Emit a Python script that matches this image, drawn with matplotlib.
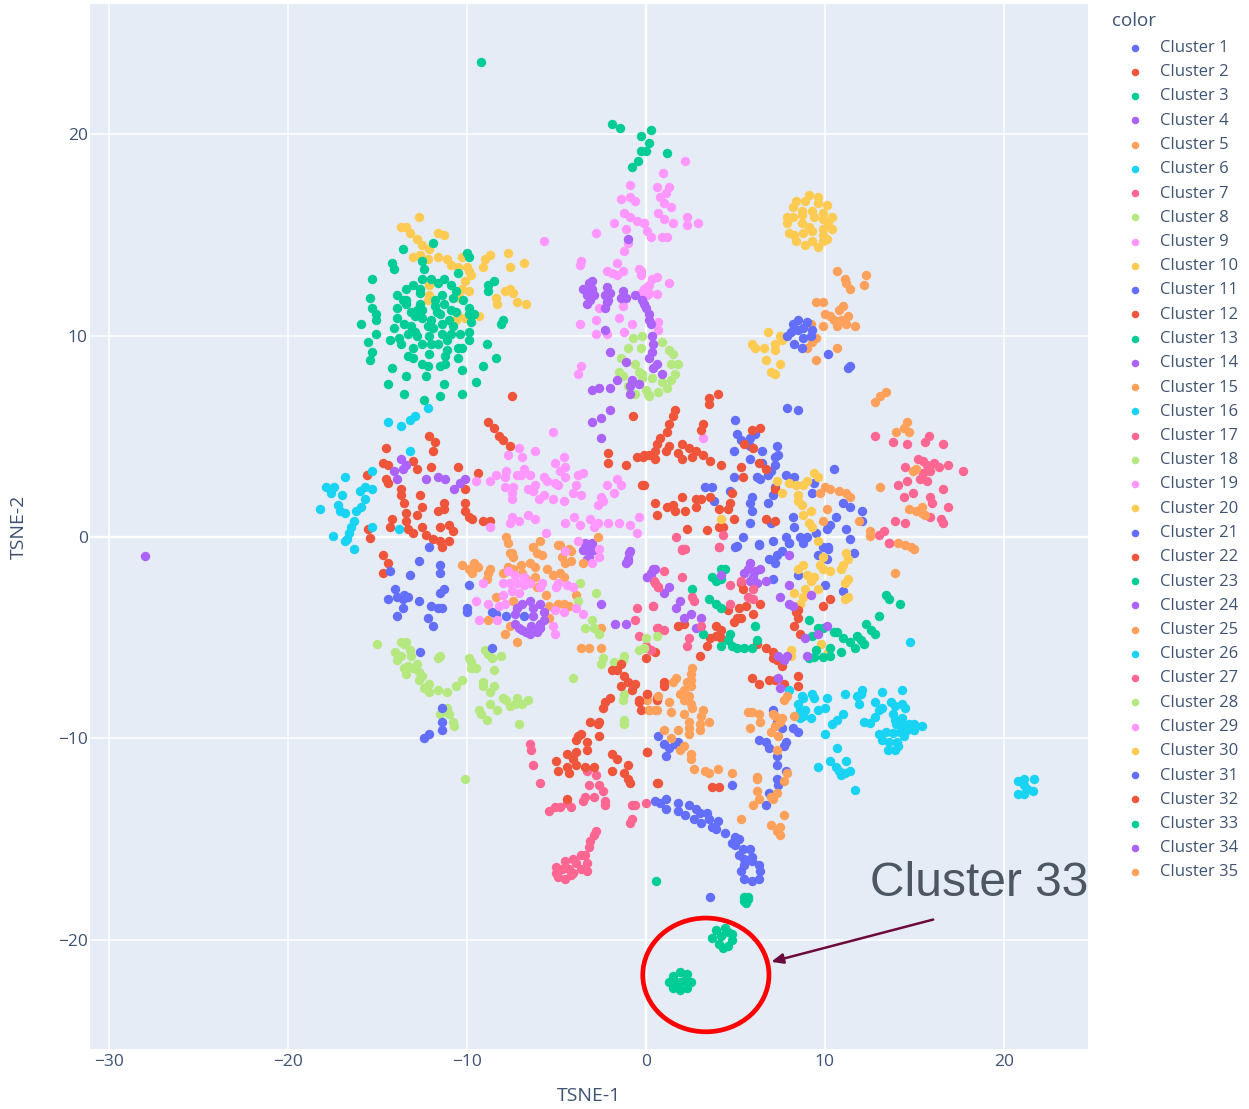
import matplotlib
matplotlib.use("Agg")
import matplotlib.pyplot as plt
from matplotlib.patches import Ellipse

C1 = [(5.1,-.45),(6.3,-.35),(7.6,-.7),(6.9,-1.1),(7.2,-1.3),(7.3,-.9),(8,-.3),(8.8,-.3),(9.6,-.9),(10.2,-.5),(10.1,-1.1),(11.6,-.8),(8.5,-1.9),(7.1,-2.1),(10,-2.4),(11,-2.7),
(7.9,6.4),(8.5,6.3),(5,5.8),(5.1,5.1),(5.3,4.8),(6.1,5.1),(5.8,4.9),(5.8,4.5),(4.9,4.3),(6.5,4.3),(5.8,3.9),(6.5,3.7),(7.3,4.5),(7.4,4.1),(7.2,4),(7.2,3.6),(7,3.3),(6.8,3.1),(6.2,3),(6.4,2.9),(4.9,3),(7.8,3.1),(8.3,3),(10.5,3.4),(7.2,2.5),(7.1,2.1),(6.8,1.7),(3.3,2.5),(3.7,2.5),(4.7,2.3),(3.8,1.8),(5.9,2),(5.8,1.7),(5.9,1.3),(5.8,.7),(9.4,2.7),(11,1.7),(11.4,1.5),(12.1,1.3),(10.6,1),(10.3,.6),(10.1,.4),(11.2,.4),(11.4,-.1),(12.1,.8),(8.2,1),(8.3,.5),(7,.7),(8.6,0),(9,0),(7.8,0),(8,-.3),(9.5,.2),(5.4,0),(7.1,-.2),(6.3,-.4),(5,-.5),(9.9,-.5),(10.2,-.6),(9.3,2.2)]
C2 = [(-8.8,5.7),(-8.5,5.4),(-8.2,5),(-8,4.8),(-7.6,4.5),(-7.5,7),(-12.1,5),(-11.8,4.7),(-11.9,4.3),(-14.5,4.4),(-13,3.8),(-14.7,3.7),(-14.4,3.6),(-12.8,3.4),(-12,3.5),(-10.5,3.5),(-9.4,3.2),(-15.6,3.1),(-14.5,2.9),(-14.4,2.7),(-13.7,2.4),(-13.7,2.1),(-12.6,2.1),(-11.3,1.7),(-12.5,1.5),(-13.5,1.7),(-13.4,1.2),(-12.8,1.1),(-11.3,1.4),(-11.6,1.3),(-10.1,1.7),(-10.1,1.3),(-9.9,1),(-9.7,.9),(-9.1,.8),(-8.7,.8),(-10.1,2.4),(-14.2,.9),(-13.4,.8),(-14.3,.5),(-15.5,.4),(-15.4,-.05),(-13.3,.4),(-13,.2),(-12.5,.5),(-12.3,.1),(-11.5,.5),(-11,.6),(-10.8,.3),(-11.9,-.1),(-11.5,-.2),(-11.4,-.5),(-11,-.2),(-14.7,-.9),(-14.4,-1.3),(-14.7,-1.8)]
C3 = [(-9.2,23.6),(-1.9,20.5),(-1.45,20.3),(.3,20.2),(-.3,19.9),(.2,19.6),(0,19.2),(-.3,19.2),(1.2,19.1),(-.45,18.7),(-.8,18.4)]
C4 = [(-13.7,3.9),(-13.4,3.6),(-13.6,3.4),(-14.1,3.3),(-13.9,2.9),(-12.3,2.9),(-11.6,3),(-11.2,2.9),(-10.1,2.9),(-10.4,2.7),(-10.7,2.4),(-28,-.95),(-.95,-.8),(-.9,-.7),(-1,-1.1),(-1,-1.2),(-1.1,-1.3),(.26,-1.9),(.5,-1.6),(.07,-2),(-1.7,-4.3),(-1.1,-4.3),(-2.5,-3.3),(-3.4,-.3),(-3,-.3),(-3.2,-.65),(-3.5,-.65),(-2.9,-.65),(-3.2,-1),(-3.3,-1.1),(-3.1,-.5)]
C5 = [(10.7,13.2),(12.3,13),(12.2,12.5),(11.1,12.8),(11.2,12.6),(11.4,12.3),(9.5,11.7),(9.9,11.7),(11,11.5),(10.8,11.3),(10,11.1),(10.3,11),(10.5,10.8),(10.9,10.8),(11.3,11),(10.7,10.5),(11.2,10.6),(11.7,10.5),(9.9,10.5),(9.2,10.6),(9.5,9.9),(9.3,9.7),(9,9.4),(10.7,9.4),(9.5,8.8),(13.4,7.2),(13.1,7),(12.8,6.7),(14.6,5.7),(14.4,5.4),(14,5.2),(14.7,5.2)]
C6 = [(-12.2,6.4),(-12.9,6),(-13.2,5.8),(-14.4,5.7),(-13.7,5.5),(-13.2,4.3),(-15.3,3.3),(-16.8,3),(-17.9,2.5),(-17.4,2.5),(-17.6,2.2),(-17,2.1),(-15.7,2.5),(-16,2.3),(-15.3,2.4),(-15.7,1.9),(-18.2,1.4),(-17.2,1.6),(-17.1,1.3),(-16.8,1.2),(-16.2,1.3),(-15.9,1.5),(-16.3,.8),(-16.5,.5),(-16.6,.2),(-17.5,.05),(-16.7,-.1),(-16.8,-.2),(-16.3,-.6),(-15.3,.5),(-13.8,.4)]
C7 = [(12.8,5),(13.8,4.7),(14.6,4.6),(15.6,4.7),(15.8,5),(16.6,4.6),(15.2,3.9),(15.5,3.8),(16.1,3.7),(14.5,3.5),(15.7,3.6),(16.4,3.5),(16.9,3.6),(15.9,3.3),(15.5,3.2),(15.3,2.9),(15.7,2.8),(17.7,3.3),(14.1,2.6),(14.6,2.8),(16.6,2.4),(14.9,2.2),(14.4,2),(15.9,2),(16,1.7),(16.9,1.5),(15.9,1),(16.5,.9),(16.6,.7),(13.9,.8),(14.5,.7),(13.3,.3),(13,.1),(13.6,-.3)]
C8 = [(-.7,9.9),(-.2,10),(-1,9.4),(-.3,9.4),(-1.4,8.9),(-.6,8.6),(-.4,8.2),(-1.5,8.2),(-1.3,8),(-.2,7.9),(-1,7.5),(-.6,7.1),(.1,7.1),(.9,9.7),(1.3,9.3),(1.5,9.1),(1.8,8.6),(1.4,8.6),(1.6,8.1),(1.4,7.8),(.9,7.7),(1.2,7.4),(.7,7.2),(.2,7),(0,7.3),(.35,7.9),(-.2,8.1)]
C9 = [(-.9,17.5),(-1.4,16.8),(-.9,16.9),(-.6,16.7),(-1.2,16.1),(-.9,15.9),(-1.8,15.6),(-.5,15.7),(-.1,15.6),(-1.1,15.3),(-2.8,15.1),(-1,14.6),(-1.2,14.2),(-5.7,14.7),(-3.6,13.7),(-3.7,13.5),(-1.6,13.6),(-2.2,13.2),(-1.6,13),(-1.9,13.1),(-1.3,13.2),(-.4,13.3),(-.3,13),(-1.3,11.5),(-2.6,11.4),(-3.7,10.6),(-2.8,10.8),(-1.5,10.9),(-.8,10.6),(-2.8,10.1),(-2.2,10.1),(-1.2,10.2),(-3.6,8.5),(-3.8,8.1),(.05,12.4),(-.3,12.1),(.15,12.1),(.6,17.4),(1.3,17.4),(1.1,17.1),(.8,16.9),(1,16.6),(1.4,16.4),(.7,16.1),(1,15.8),(1.5,15.6),(2.3,15.9),(2.3,15.5),(2.9,15.6),(-.1,15.6),(.07,15.2),(.3,14.9),(.9,14.9),(1.2,14.9),(.6,12.9),(.35,12.8),(1.3,12.6),(.15,12.5),(-.1,12.3),(.07,12),(.6,12.05),(-.3,13.2),(.7,10.7),(.7,10.3),(2.2,18.7),(.95,18.1),(3.2,4.9)]
C10 = [(-12.7,15.9),(-13.7,15.4),(-13.4,15.4),(-13.2,15.1),(-12.8,14.8),(-12.5,14.5),(-12.1,14.3),(-11.6,15.1),(-11.3,15),(-13,13.9),(-12.6,14),(-12.2,13.8),(-11.6,13.9),(-11.1,13.8),(-10.9,13.5),(-10.3,13.9),(-10.5,13.4),(-10,13.4),(-9.9,13.2),(-9.8,13),(-10.1,12.7),(-9,13.8),(-8.7,14),(-9.1,13.4),(-7.7,14.1),(-6.8,13.6),(-7.6,13.4),(-12.1,12.5),(-10.3,12.3),(-9.9,12.2),(-10.4,11.9),(-12.1,12),(-12.2,11.8),(-7.9,12.2),(-7.6,12.3),(-7.4,12.1),(-8.4,11.9),(-8.3,11.6),(-7.2,11.7),(-6.7,11.6),(-10.5,11),(-10.6,10.8),(-10.1,10.9),(-9.3,11),
(6.8,10.2),(5.9,9.6),(6.1,9.4),(6.6,9.4),(7.2,9.6),(7.2,9.3),(7.6,9.8),(7.5,10),(6.7,8.8),(7.5,8.6),(7,8.2),(7.2,8.1)]
C11 = [(8.2,10.6),(8.5,10.8),(9,10.7),(9.3,10.3),(8.1,10.2),(8.5,10.3),(8.8,10.4),(8.8,9.9),(9.2,10),(8.3,9.6),(7.9,10),(8.7,9.4),(10.2,9.1),(11.4,8.5),(11.3,8.4)]
C12 = [(4,7.1),(3.5,6.9),(3.5,6.6),(1.6,6.3),(1.5,6),(1.3,5.6),(1.2,5.2),(.8,4.9),(.6,4.6),(1.3,4.5),(1.1,4.3),(.5,4.3),(.5,3.9),(.2,4.1),(-.15,4),(-.1,2.6),(3.2,5.6),(3.1,5.3),(2,4.6),(1.8,4.2),(2.4,4.4),(2.8,4.3),(2,3.9),(2.6,4),(3.2,4.1),(3.6,3.8),(4.2,3.6),(5.3,3.5),(5.4,3),(5.9,5.3),(6.4,5.4),(5.5,4.6),(6,4.4),(6.3,3.7),(6.7,3.4),(7.2,2.4),(4.8,2.2),(4.7,1.7),(4.6,1.4),(4.1,1.4),(4.9,.9),(4.3,.5),(4.1,.5),(6.7,.9),(7.2,.8),(.5,1.7),(.6,1.1),(2,2),(1.2,1.5),(1.5,1.6),(1.6,1.3),(2.2,1.3),(2.8,1.9),(3.1,1.9),(2.8,1.5),(3.6,2),(2.3,.4),(3.4,.35),(-.7,6),(-2.1,4.2),(-2.1,3.7),(-1.1,3.6),(-.5,4),(-.1,4.1),(-.2,2.6)]
C13 = [(-11.9,14.6),(-13.6,14.3),(-14.2,13.6),(-14.1,13.3),(-12.4,13.3),(-12.5,13.7),(-10,14.1),(-9.9,13.9),(-10.5,13.1),(-15.3,12.8),(-12.5,12.8),(-12,12.8),(-11.3,12.8),(-11.6,12.6),(-13,12.5),(-13.4,12.3),(-12.6,12.3),(-10.9,12.5),(-8.5,12.7),(-8.8,12.5),(-8.8,12.2),(-13.9,12),(-15.4,11.9),(-13.4,11.8),(-13.6,11.8),(-13.4,11.6),(-12.6,12.1),(-11.4,12),(-11.8,11.8),(-10.8,11.9),(-10.6,12.2),(-10.2,11.8),(-15.3,11.4),(-13.9,11.4),(-12.6,11.6),(-12.8,11.3),(-11.8,11.5),(-11.3,11.6),(-11.7,11.2),(-10.9,11.3),(-9.9,11.4),(-15.1,11.1),(-13.1,11.2),(-12.9,11),(-12.5,11.3),(-11.5,11.1),(-11,10.8),(-10.6,11.2),(-9.9,11.1),(-9.6,11.1),(-15.1,10.8),(-15.9,10.6),(-13.9,10.9),(-12.5,10.9),(-12,10.8),(-9.8,10.7),(-8,10.8),(-8.1,10.6),(-14.1,10.4),(-13.5,10.6),(-13.1,10.5),(-12.2,10.5),(-11.9,10.4),(-11.4,10.6),(-10.8,10.5),(-15.1,10.1),(-12.9,10.2),(-13.3,10.1),(-12.8,10),(-12.1,10),(-11.4,10.1),(-10.9,10.1),(-10.4,10.1),(-9.9,10.2),(-14.3,9.8),(-13.8,9.9),(-15.5,9.7),(-13.7,9.6),(-12.5,9.6),(-12,9.6),(-11.6,9.6),(-11.1,9.8),(-9.9,9.8),(-8.9,9.6),(-13,9.4),(-10.5,9.4),(-10.3,9.4),(-11.1,9.3),(-15.3,9.2),(-13.3,9),(-13,8.9),(-12.1,9.1),(-11.2,9),(-10.5,8.9),(-8.4,8.9),(-15.4,8.8),(-12.5,8.6),(-12.2,8.5),(-11.2,8.6),(-11.5,8.5),(-9.1,8.5),(-14.2,8.4),(-10.3,8.3),(-13.4,8),(-12.3,8),(-11.3,7.6),(-9.5,7.7),(-14.4,7.6),(-13.5,7.1),(-11.5,7),(-10.3,7.1),(-12.4,6.8)]
C14 = [(-3,12.7),(-3.2,12.6),(-3.5,12.3),(-3,12.3),(-3.3,12),(-2.9,12),(-3.3,11.6),(-3.1,11.8),(-2.2,12.4),(-2,12.1),(-2.3,12),(-2.2,11.7),(-2.3,11.4),(-2.1,11.8),(-1.3,12.2),(-1.4,11.9),(-1.1,11.9),(-.6,12),(-.2,11.8),(0,11.4),(.15,10.8),(-.1,11.6),(.2,11.1),(.3,10.6),(.35,10),(.4,9.6),(.35,9.2),(.2,8.9),(.6,8.6),(.4,8.4),(.9,8.1),(-1,14.8),(-2.3,10.3),(-2,9.2),(-1.1,8.7),(-1.6,7.8),(-3,7.3),(-2.6,7.4),(-2,7.4),(-.8,7.8),(-.4,7.6),(-.9,7.5),(-.9,7.1),(-3,5.7),(-2.5,5.9),(-2,6.3),(-2.5,4.9)]
C15 = [(14.9,3.3),(15.1,3.4),(13.1,2.5),(14.7,1.4),(15.1,1.3),(15.4,1.2),(15.4,1.5),(15.6,1.1),(12.5,.3),(12.5,.05),(14.1,-.3),(14.5,-.4),(14.8,-.5),(15,-.6),(13.9,-1.8),(9.7,2.2),(10,2.5),(10.3,2.4),(10.8,2.3),(11.2,2.2),(11.4,2),(10.1,1.4),(9.9,.8),(11.9,.8)]
C16 = [(14.75,-5.2),(10.65,-10.5),(10.3,-11.1),(11.2,-11.1),(9.6,-11.4),(10.6,-11.4),(10.8,-11.6),(11.1,-11.7),(11.4,-11.6),(10.9,-11.8),(11.7,-12.55)]
C17 = [(-6.5,-10.3),(-6.4,-10.6),(-6.3,-11.3),(-5.9,-12.2),(-3.3,-11.6),(-2.8,-11.8),(-3.2,-12.3),(-2.6,-12.3),(-2.4,-12.6),(-3.4,-12.9),(-3.5,-13.1),(-2.9,-12.9),(-2.3,-13.1),(-2.3,-13.3),(-4.4,-13.2),(-4.2,-13.4),(-4.8,-13.4),(-5.1,-13.4),(-5.4,-13.6),(-.8,-13.3),(-.6,-13.3),(0,-13.2),(-.8,-14),(-.9,-14.2),(-2.8,-14.6),(-2.9,-14.8),(-3.1,-15.1),(-3.2,-15.4),(-3.4,-15.8),(-3.6,-15.8),(-4.1,-16),(-4.5,-16.1),(-5,-16.4),(-5,-16.7),(-4.9,-16.9),(-4.5,-17),(-4.1,-16.7),(-4.3,-16.5),(-3.9,-16.2),(-3.3,-16.2),(-3.3,-16.6),(-3.6,-16.5),(-4.7,-16.5),(-4.2,-16.8)]
C18 = [(-15,-5.3),(-13.7,-5.2),(-13.4,-5.2),(-14,-5.7),(-13.2,-5.6),(-13.9,-6.1),(-13.1,-5.9),(-13.5,-5.3),(-13.7,-5.9),(-12.8,-6.3),(-13.5,-6.5),(-13.3,-6.4),(-13,-6.5),(-13.4,-6.8),(-12.7,-6.7),(-12.5,-6.9),(-12.7,-7.1),(-12.4,-7.5),(-12.1,-7.3),(-12.1,-7.7),(-11.6,-7.6),(-11.1,-7.7),(-10.6,-7.4),(-10.3,-7.1),(-11.5,-5.9),(-11.6,-6),(-9.9,-6),(-9.8,-6.2),(-9.8,-6.5),(-9.5,-6.5),(-9,-5.6),(-8.8,-5.8),(-8.6,-6),(-8.1,-5.9),(-8.5,-6.6),(-9.1,-7.2),(-9.1,-7.4),(-8.5,-7.4),(-8.7,-7.7),(-8,-8),(-7.8,-8.1),(-7.2,-8),(-7.6,-8.4),(-7.3,-8.3),(-6.9,-8.3),(-6.6,-8.1),(-8.7,-8.3),(-8.3,-8.6),(-9.3,-8.6),(-9.2,-8.8),(-8.9,-9.1),(-7.1,-9.3),(-11.1,-8.5),(-11.5,-8.8),(-11,-8.8),(-10.8,-9.2),(-10.7,-9.4),(-10.1,-12)]
C19 = [(-5.2,5.2),(-7.1,4.4),(-6.2,4.3),(-7.7,4.1),(-6.9,4),(-4.6,4),(-5.1,3.7),(-4.5,3.5),(-4.8,3.3),(-6.8,3.4),(-7.8,3.3),(-8.4,3.1),(-7.2,3.1),(-7,3.1),(-6.5,3.1),(-7.9,3),(-8.7,2.8),(-9.5,2.8),(-5.7,3),(-5.5,2.8),(-4.5,3),(-3.8,3.1),(-3.5,3.2),(-5.1,2.7),(-4.9,2.6),(-6.2,2.6),(-7.9,2.5),(-7.4,2.5),(-6.6,2.4),(-6.3,2.3),(-7.5,2.2),(-7.5,1.9),(-5.7,2.1),(-6,1.9),(-5.2,1.9),(-4.6,1.8),(-3.9,2.6),(-4.1,2.2),(-3.6,2.1),(-2.2,2.6),(-1.6,2.9),(-1.4,2.6),(-1.8,2.2),(-2.5,2),(-2.4,1.8),(-2.7,1.6),(-7.5,1),(-7.1,.8),(-7.6,.7),(-6.6,1.1),(-6.2,.9),(-4.5,.7),(-4,1),(-3.7,.6),(-3.1,.9),(-2.7,.7),(-2.9,.5),(-2.1,.7),(-1.5,.7),(-.9,.6),(-.4,1),(-.5,.2),(-8.7,.5),(-5.6,.2)]
C20 = [(7.3,2.8),(8,2.7),(8.4,2.6),(9,2.8),(8.8,2.6),(9.4,3.2),(9.6,3),(7.6,2.2),(8.5,2.1),(8.5,1.8),(8.7,1.6),(9.2,1.3),(8.8,1.1),(4.2,.9),(9.1,.7),(9.3,.5),(9.6,-.2),(9.9,-1),(11.2,-.8),(8.5,-1.6),(8.8,-1.4),(9.7,-1.4),(9.9,-1.6),(10.3,-1.7),(11.3,-1.1),(11,-1.4),(10.9,-1.6),(9,-1.9),(9.4,-2),(9.2,-2.2),(11.3,-2.1),(11.1,-2.3),(9.6,-2.6),(8.9,-2.6),(8.3,-2.8),(8.8,-3),(8.6,-3.3),(11.3,-3),(11.1,-3.1),(9.8,-5.3),(10.2,-5.7),(8.1,-5.6),(8.1,-5.9)]
C21 = [(-12.7,-1.2),(-14.3,-1.7),(-13.2,-1.9),(-11.5,-1.4),(-11.5,-1.8),(-11.3,-2.6),(-11.5,-2.8),(-9.9,-2.4),(-14,-2.6),(-13.5,-2.9),(-13.9,-3),(-14.4,-3.1),(-13.3,-3),(-13.6,-3.1),(-13.6,-3.5),(-12.7,-3.2),(-13.9,-3.9),(-12,-3.4),(-11.6,-3.5),(-11.4,-3.5),(-12.2,-4),(-11.9,-4.4),(-10,-3.5),(-10,-3.7),(-8.6,-3.7),(-8.4,-3.8),(-7.8,-3.9),(-12.6,-5.7),(-8.6,-5.5),(-11.4,-8.5),(-11.4,-9.2),(-11.4,-9.6),(-12.1,-9.8),(-12.4,-10),(-12.1,-.5)]
C22 = [(5.3,-2.3),(5.4,-2.6),(6.4,-3.3),(5.6,-3.4),(5.2,-3.5),(4.6,-3.6),(6,-3.8),(5.3,-4),(5.1,-4),(4.9,-4.2),(2.1,-4.3),(1.8,-4.4),(3.9,-4.4),(4.2,-4.6),(3.9,-4.9),(3.6,-5),(4.2,-5),(3.4,-5.4),(3,-5.9),(.5,-5.7),(0,-6),(6.2,-5.3),(6.7,-5.5),(7.1,-5.7),(7.1,-6),(7.3,-6.1),(7.6,-6.4),(5.9,-7),(6.3,-7.3),(6.9,-7.1),(7.2,-7.1),(7.7,-7.3),(8.5,-6.9),(8.5,-7.4),(8.3,-4.4),(8.6,-4.8),(8.5,-4),(8.5,-3.6),(8.4,-3.7),(9.9,-3.4),(10.3,-3.1),(1,-7.2),(1,-7.4),(.7,-12.2),(3.7,-12.4),(4.1,-12.4),(.07,-7.8),(.6,-8.1),(.07,-10.7)]
C23 = [(4.4,-1.6),(4.2,-1.6),(3.7,-2),(3.9,-2.2),(4.2,-2.1),(2.6,-2.6),(3.5,-3.1),(3.9,-3.3),(4.2,-3.5),(6.1,-4.4),(3.2,-4.8),(4.7,-4.8),(4.6,-5.1),(4.2,-5.4),(4.8,-5.4),(5.1,-5.5),(5.5,-5.5),(5.9,-5.5),(6.2,-5.1),(9.1,-4.1),(9.6,-4.5),(9.9,-4.5),(9.3,-4.9),(10.5,-4.7),(10.7,-4.7),(11,-5),(11.4,-5.2),(11.7,-5.5),(11.8,-4.9),(12,-5.1),(12.2,-5.3),(12.3,-4.3),(12.6,-4.6),(12.8,-4.8),(13,-3.9),(13.4,-2.9),(13.6,-3.1),(14.2,-3.3),(9.5,-5.6),(10.3,-5.5),(10.9,-5.7),(9.1,-6),(9.4,-5.95),(9.9,-5.95),(10.3,-5.9)]
C24 = [(.3,-1.8),(.4,-1.6),(1.3,-2.5),(1,-2.8),(1.9,-3.2),(1.7,-3.5),(2.5,-3.8),(2.1,-4),(3.1,-4),(2.8,-4.5),(4.2,-1.9),(5.8,-1.3),(5.5,-1.8),(6.1,-1.7),(6.4,-1.6),(5.8,-2.2),(6.2,-2.3),(6.7,-2.2),(6,-2),(5.7,-1.6),(8,-2.4),(7.5,-3),(8,-3.3),(8.2,-3.4),(9.2,-2.9),(10.1,-4.4),(8.9,-5),(9.6,-4.8),(7.4,-5.9),(7.7,-6.1),(7.9,-5.9),(8,-.9),(7.4,-7),(7.5,-7.5),(9,-5.9)]
C25 = [(-7.8,0),(-7.7,-.3),(-7.6,-.8),(-5.9,-.2),(-6.3,-.5),(-6.1,-.8),(-5.8,-.9),(-4.8,-.4),(-4.2,-.7),(-2.7,0),(-7.5,-.8),(-7.4,-1),(-6.3,-.5),(-4.9,-.4),(-4.7,-1),(-4.3,-.6),(-4.2,-1.2),(-4.5,-1.3),(-10.3,-1.4),(-9.9,-1.6),(-9.7,-1.8),(-9.6,-1.3),(-9.4,-1.5),(-8.7,-1.6),(-8.8,-1.8),(-8.9,-2.1),(-8,-1.8),(-7.7,-1.5),(-7.4,-1.6),(-7,-1.4),(-6.5,-1.3),(-6.2,-1.5),(-5.5,-1.6),(-4.8,-1.8),(-5.2,-1.9),(-4.6,-2),(-6.9,-1.8),(-6.7,-2.1),(-6.2,-2),(-6.1,-2.5),(-5.6,-2.9),(-8.4,-3),(-7.4,-3.2),(-4.9,-3.3),(-4.6,-3.3),(-4.3,-3.4),(-5.4,-3.4),(-5.4,-4),(-8.8,-4.1),(-7.6,-4.4),(-7.9,-4.8),(-7.2,-5.2),(-3.9,-2.9),(-2.5,-4.5),(-3.6,-5.5),(-3.2,-5.5),(-2.5,-5.5),(.07,-8.1),(.5,-8.6),(.2,-8.6),(-3.5,-1.3)]
C26 = [(8,-7.6),(8.7,-7.9),(8.5,-8.3),(8.6,-8.6),(8.8,-8),(8.9,-8.6),(8.8,-8.9),(8.6,-9),(9.2,-9),(9.3,-7.8),(9.4,-8),(10.1,-8),(11.1,-7.8),(9.6,-8.6),(10,-8.5),(11,-8.8),(10.7,-9.1),(10.4,-9.3),(10,-9.8),(11.8,-7.9),(12,-7.8),(12.1,-7.6),(11.9,-8.3),(12.2,-9.2),(12.5,-9.25),(13.2,-7.7),(14.3,-7.6),(12.8,-8.2),(13,-8.6),(13.2,-8.5),(12.8,-8.95),(13.7,-8.2),(13.9,-8.4),(14.3,-8.3),(14.5,-8.5),(13.8,-8.8),(13.9,-9.1),(14.3,-9),(14,-9.3),(14.3,-9.3),(14.7,-9.3),(15,-9.3),(15.4,-9.4),(15,-9.6),(14.6,-9.6),(13,-9.8),(13.4,-9.7),(13.8,-9.75),(14.2,-9.7),(14.4,-9.9),(13.2,-10.1),(13.6,-10.2),(14.05,-10.2),(14.1,-10.4),(13.5,-10.6),(13.9,-10.6),
(21.7,-12),(20.8,-12.1),(21.1,-12),(21.1,-12.3),(21.3,-12.5),(21.6,-12.6),(20.8,-12.75),(21.1,-12.75)]
C27 = [(1,-1.7),(2,-2),(.5,-2.3),(.7,-2.5),(4.7,-2.4),(2.6,-3),(2.7,-3.2),(.4,-3.4),(4.7,-3.3),(3.1,-4.4),(.7,-4.5),(1,-4.6),(2.4,-5),(2.3,-5.4),(.07,-5.5),(5.3,-2.2),(6,-2.6),(5.7,-3),(6,-3.1),(4.1,-.5),(2,-.65),(2.1,-.6),(2.2,-.6),(13.6,-.3),(4.3,.1),(4.1,-.5),(1.7,0),(2,-.6),(-.5,-3.5),(.4,-3.4),(-.6,-4.1),(.6,-4.5),(-.4,-4.9),(0,-5.4),(.3,-5.6),(.45,-2.2),(.7,-2.5)]
C28 = [(-3.7,-2.3),(-2.8,-2.8),(-3.8,-3.2),(-3,-4.1),(-3.4,-4.5),(-2.9,-4.5),(-2.6,-4.8),(-2.4,-6),(-2.5,-6.3),(-1.8,-6.2),(-1.2,-5.9),(-1.3,-6.1),(-4.1,-7),(-1.2,-7.8),(-1.3,-8.1),(-1.2,-9.1),(-1.2,-9.3),(-.4,-5.6),(0,-5),(.6,-4.9),(-.1,-5.5)]
C29 = [(-7.7,-1.7),(-7.3,-1.9),(-6.8,-2),(-6.5,-2.3),(-8,-2.3),(-7.6,-2.3),(-7.2,-2.3),(-6.8,-2.4),(-7.5,-2.7),(-7.1,-2.8),(-8,-2.9),(-9.1,-2.3),(-9.5,-3.2),(-8.8,-3.3),(-8.2,-3.4),(-7.9,-3.3),(-9.3,-4.1),(-8.3,-4.1),(-5.9,-2.5),(-5.8,-2.3),(-5,-2.5),(-4.9,-2.3),(-4.4,-2.4),(-4.1,-2.5),(-5.1,-3.6),(-4.6,-3.7),(-3.9,-3.5),(-3.5,-3.8),(-5.2,-4.4),(-5.1,-4.8),(-4.5,-.7),(-3.8,-.2),(-2.6,-.6),(-2.6,-1),(-3,-1.3)]
C30 = [(9.1,17),(9.6,16.9),(8.4,16.7),(8.9,16.7),(8.2,16.4),(9.6,16.6),(10.1,16.5),(8.7,16.2),(9.3,16.2),(7.9,15.9),(8.2,15.9),(8.7,16),(9.9,16.1),(10.4,15.9),(9.4,15.9),(7.9,15.6),(9.9,15.8),(10.2,15.6),(8.7,15.6),(9.1,15.4),(9.9,15.3),(10.4,15.3),(8,15.1),(8.3,15),(8.8,15.1),(9.3,15.2),(9.9,15),(8.4,14.7),(9.3,14.7),(10.1,14.8),(9.9,14.7),(8.9,14.5),(9.6,14.4)]
C31 = [(.7,-9.9),(1.8,-10.2),(1.6,-10.3),(1.3,-10.5),(1,-10.3),(1.1,-10.9),(7.1,-8.6),(7.6,-9.5),(8.2,-9.5),(8.5,-9.7),(7.3,-9.2),(6.3,-10.1),(6.7,-10.2),(6.9,-10.5),(7.8,-10.2),(7.7,-10.4),(7.3,-10.9),(7.3,-11.3),(7.8,-11.6),(7.3,-12),(7.4,-12.3),(6.9,-12.7),(6.7,-13.3),(4.8,-12.3),
(.5,-13.1),(1.1,-13),(.8,-13.2),(1.1,-13.5),(1.8,-13.2),(1.8,-13.6),(2.2,-13.8),(2.4,-13.3),(2.7,-14),(2.8,-13.5),(3,-13.7),(3.1,-14.2),(3.4,-13.7),(3.5,-14),(3.7,-14.4),(4,-14.1),(3.9,-14.5),(4.4,-14.7),(5,-14.9),(4.8,-15.2),(5,-15.3),(5.2,-15),(5.2,-15.8),(5.5,-16),(5.8,-15.5),(5.9,-15.9),(5.4,-15.5),
(5.9,-16.1),(6.3,-16.3),(6.4,-16.6),(6.3,-17),(5.9,-17.1),(5.5,-17),(5.3,-16.6),(5.5,-16.3),(3.6,-17.9),(-6.8,-3.9)]
C32 = [(-1.4,-6.3),(-1.6,-6.6),(-1.9,-6.6),(-1.2,-6.9),(-1,-7.2),(-.6,-7.3),(-1.4,-7.4),(-.8,-7.6),(-2,-8),(-2.3,-8.2),(-2.4,-8.5),(-.4,-8.1),(-.4,-8.2),(.07,-7.8),(.6,-8),(-.3,-8.6),(-3.1,-9.2),(-2.7,-9.3),(-2.6,-9.2),(-2.6,-9.9),(-3.6,-9.8),(-3.8,-9.9),(-3.9,-10.1),(-3.3,-10.2),(-3.3,-10.6),(-4.4,-10.8),(-3.9,-10.7),(-4.1,-11),(-3.9,-11.3),(-5,-11.1),(-4.9,-11.6),(-4.4,-11.4),(-4.3,-11.7),(-3.4,-11.4),(-2.9,-11.4),(-1.9,-10.8),(-1.6,-11),(-1,-11.3),(-1.2,-11.7),(-1.9,-11.6),(-1,-12),(-.9,-12.2),(.07,-10.7),(.6,-12.2),(-4.4,-13)]
C33 = [(1.9,-21.6),(1.5,-21.8),(2.3,-21.7),(1.3,-22.1),(2.5,-22.1),(1.5,-22.4),(1.9,-22.5),(2.3,-22.4),(1.9,-22.1),(1.6,-22.1),(2.2,-22),(3.9,-19.5),(4.4,-19.4),(4.8,-19.7),(3.7,-19.9),(4.8,-20),(4.1,-20.2),(4.6,-20.3),(4.3,-20.4),(4.2,-19.8),(4.6,-19.6),(5.5,-17.9),(5.7,-18),(5.6,-18.2),(5.5,-18.1),(5.7,-17.9),(.55,-17.1)]
C34 = [(-6.5,-3.2),(-6.9,-3.3),(-5.9,-3.3),(-5.7,-3.7),(-5.7,-4.1),(-5.9,-4.5),(-6.5,-4.8),(-6.9,-4.6),(-7.3,-4.3),(-7.3,-3.8),(-7.2,-3.5),(-6.3,-3.9),(-6.7,-4.7),(-6.1,-4.7),(-7.1,-4.5),(-6.3,-3.5),(-5.9,-4.3),(-6.4,-4.4),(.07,-2)]
C35 = [(2.6,-6.5),(2.5,-6.8),(2.5,-7.1),(1.7,-7),(1.5,-7.2),(2.3,-7.2),(2.1,-7.6),(2.5,-7.4),(1.9,-7.8),(2.4,-7.9),(2.1,-8.1),(2.5,-8.3),(2.6,-8.5),(.7,-7.9),(1.3,-8.2),(.2,-8.6),(.6,-8.6),(1.4,-8.7),(2.1,-8.8),(3.2,-8.6),(3.1,-8.9),(3.5,-9.2),(2.4,-9.2),(2.4,-9.5),(2.4,-9.8),(3,-9.3),(3,-9.6),(1,-9.6),(1.8,-9.6),(1.4,-10),(2.1,-10.4),(1.9,-10.6),(2.5,-10.8),(2.5,-11),(2.7,-11.5),(3.3,-11.6),(3.5,-11.7),(4,-11.5),(4.8,-11.7),(5.7,-8.7),(5.9,-8.7),(6.3,-8.8),(6.4,-9.2),(5.8,-9.5),(7.1,-8.8),(7.2,-8.9),(7.6,-9),(7.5,-9.2),(7.2,-9.4),(7,-9.7),(7.4,-9.9),(7.7,-8.1),(7.9,-7.9),(8.3,-8.9),(7.3,-10.6),(7.9,-11.7),(7.7,-12.1),(6.2,-11.9),(6.2,-12),(6.2,-12.6),(6.3,-13),(6,-13.3),(7,-12.9),(7.1,-13),(7.3,-12.7),(5.3,-14),(7.7,-13.8),(7,-14.3),(7.5,-14.4),(7.3,-14.6),(7.5,-14.8)]

clusters = [C1,C2,C3,C4,C5,C6,C7,C8,C9,C10,C11,C12,C13,C14,C15,C16,C17,C18,C19,C20,C21,C22,C23,C24,C25,C26,C27,C28,C29,C30,C31,C32,C33,C34,C35]
palette = ["#636EFA","#EF553B","#00CC96","#AB63FA","#FFA15A","#19D3F3","#FF6692","#B6E880","#FF97FF","#FECB52"]
x_ticks = [-30,-20,-10,0,10,20]
y_ticks = [-20,-10,0,10,20]

W, H = 1249, 1109
plt.rcParams['font.family'] = ['Open Sans', 'DejaVu Sans']
fig = plt.figure(figsize=(W/100, H/100), dpi=100, facecolor='white')
L, R, T, B = 90, 1088, 4, 1049
ax = fig.add_axes([L/W, 1-B/H, (R-L)/W, (B-T)/H], facecolor='#E5ECF6')
ax.set_xlim(-31.06, 24.7)
ax.set_ylim(-25.43, 26.48)
for i, pts in enumerate(clusters):
    ax.scatter([p[0] for p in pts], [p[1] for p in pts], s=46, color=palette[i % 10],
               linewidths=0, zorder=3+i*0.01, label=f"Cluster {i+1}")
ax.set_xticks(x_ticks)
ax.set_yticks(y_ticks)
ax.grid(True, color='white', lw=1.1, zorder=1)
ax.set_axisbelow(True)
ax.axhline(0, color='white', lw=1.7, zorder=1.5)
ax.axvline(0, color='white', lw=1.7, zorder=1.5)
for s in ax.spines.values():
    s.set_visible(False)
tc = '#3E5272'
ax.tick_params(length=0, labelsize=12.5, labelcolor=tc)
ax.tick_params(axis='x', pad=3.5)
ax.tick_params(axis='y', pad=1.5)
ax.set_xlabel('TSNE-1', fontsize=14, color=tc, labelpad=12)
ax.set_ylabel('TSNE-2', fontsize=14, color=tc, labelpad=22)

leg = ax.legend(loc='upper left', bbox_to_anchor=(1122/W, 1-40/H), bbox_transform=fig.transFigure,
                frameon=False, fontsize=12, labelcolor=tc, ncol=1, borderpad=0, borderaxespad=0,
                labelspacing=0.495, handletextpad=0.72, handlelength=1.53, markerscale=0.8)
fig.text(1112/W, 1-21/H, 'color', fontsize=13.5, color=tc, ha='left', va='center')

ax.add_patch(Ellipse((3.35, -21.75), 7.05, 5.65, fill=False, ec='#FF0000', lw=3.4, zorder=10, clip_on=False))
ax.annotate('', xy=(7.0, -21.1), xytext=(16.05, -19.0),
            arrowprops=dict(arrowstyle='-|>,head_length=0.7,head_width=0.3', color='#6B0A3C', lw=1.8,
                            shrinkA=0, shrinkB=0), zorder=10)
fig.text(870/W, 1-896/H, 'Cluster 33', family=['Liberation Sans'], fontsize=34.5, color='#4D5663', ha='left', va='baseline')
fig.savefig('out.png', dpi=100)
